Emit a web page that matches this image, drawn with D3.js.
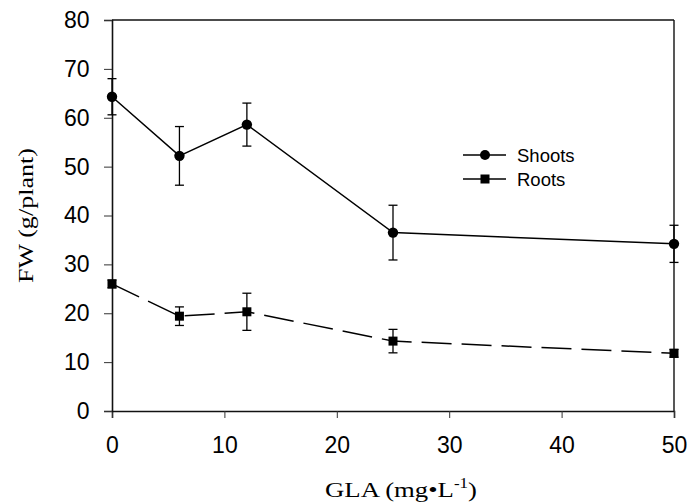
<!DOCTYPE html>
<html>
<head>
<meta charset="utf-8">
<script src="https://cdn.jsdelivr.net/npm/d3@7"></script>
<style>
  body { margin: 0; background: #fff; }
  svg { display: block; }
</style>
</head>
<body>
<div id="chart"></div>
<script>
const doses = [0, 6, 12, 25, 50];
const shoots = [64.3, 52.2, 58.6, 36.5, 34.2];
const shootsErr = [3.7, 6.0, 4.4, 5.6, 3.8];
const roots = [26.0, 19.4, 20.3, 14.3, 11.8];
const rootsErr = [0.8, 1.9, 3.8, 2.4, 0.8];
const xTicks = [0, 10, 20, 30, 40, 50];
const yTicks = [0, 10, 20, 30, 40, 50, 60, 70, 80];

var margin = { top: 20, right: 15, bottom: 93, left: 112 },
    width = 689 - margin.left - margin.right,
    height = 504 - margin.top - margin.bottom;

var svg = d3.select("#chart").append("svg")
    .attr("width", 689)
    .attr("height", 504)
  .append("g")
    .attr("transform", "translate(" + margin.left + "," + margin.top + ")");

var x = d3.scaleLinear().domain([0, 50]).range([0, width]);
var y = d3.scaleLinear().domain([0, 80]).range([height, 0]);

// axes
var xAxis = svg.append("g")
    .attr("transform", "translate(0," + height + ")")
    .call(d3.axisBottom(x).tickValues(xTicks).tickSize(7).tickPadding(19));
var yAxis = svg.append("g")
    .call(d3.axisLeft(y).tickValues(yTicks).tickSize(8).tickPadding(14.5));

[xAxis, yAxis].forEach(function (a) {
    a.select(".domain").attr("stroke", "#111").attr("stroke-width", 1.6);
    a.selectAll(".tick line").attr("stroke", "#333").attr("stroke-width", 1);
    a.selectAll(".tick text")
        .attr("fill", "#000")
        .style("font-family", "Liberation Sans, Arial, sans-serif")
        .style("font-size", "23px");
});

// top and right frame
svg.append("line").attr("x1", 0).attr("x2", width).attr("y1", 0).attr("y2", 0)
    .attr("stroke", "#111").attr("stroke-width", 1.4);
svg.append("line").attr("x1", width).attr("x2", width).attr("y1", 0).attr("y2", height)
    .attr("stroke", "#111").attr("stroke-width", 1.4);

var series = [
    { name: "Shoots", values: shoots, err: shootsErr, marker: "circle", dash: null },
    { name: "Roots", values: roots, err: rootsErr, marker: "square", dash: "30,10" }
];

var line = d3.line()
    .x(d => x(d[0]))
    .y(d => y(d[1]));

series.forEach(function (s) {
    var pts = doses.map((d, i) => [d, s.values[i], s.err[i]]);

    svg.append("path")
        .datum(pts)
        .attr("d", line)
        .attr("fill", "none")
        .attr("stroke", "#000")
        .attr("stroke-width", 1.5)
        .attr("stroke-dasharray", s.dash);

    // error bars
    var eb = svg.append("g").selectAll("g")
        .data(pts)
        .join("g")
        .attr("stroke", "#000")
        .attr("stroke-width", 1.3);
    eb.append("line")
        .attr("x1", d => x(d[0])).attr("x2", d => x(d[0]))
        .attr("y1", d => y(d[1] - d[2])).attr("y2", d => y(d[1] + d[2]));
    eb.append("line")
        .attr("x1", d => x(d[0]) - 4.5).attr("x2", d => x(d[0]) + 4.5)
        .attr("y1", d => y(d[1] + d[2])).attr("y2", d => y(d[1] + d[2]));
    eb.append("line")
        .attr("x1", d => x(d[0]) - 4.5).attr("x2", d => x(d[0]) + 4.5)
        .attr("y1", d => y(d[1] - d[2])).attr("y2", d => y(d[1] - d[2]));

    // markers
    if (s.marker === "circle") {
        svg.append("g").selectAll("circle")
            .data(pts)
            .join("circle")
            .attr("cx", d => x(d[0]))
            .attr("cy", d => y(d[1]))
            .attr("r", 5.2)
            .attr("fill", "#000");
    } else {
        svg.append("g").selectAll("rect")
            .data(pts)
            .join("rect")
            .attr("x", d => x(d[0]) - 4.5)
            .attr("y", d => y(d[1]) - 4.5)
            .attr("width", 9)
            .attr("height", 9)
            .attr("fill", "#000");
    }
});

// legend
var legend = svg.append("g")
    .attr("transform", "translate(" + (463 - margin.left) + "," + (155 - margin.top) + ")");
series.forEach(function (s, i) {
    var g = legend.append("g").attr("transform", "translate(0," + (i * 24) + ")");
    g.append("line").attr("x1", 0).attr("x2", 43).attr("y1", 0).attr("y2", 0)
        .attr("stroke", "#000").attr("stroke-width", 1.3);
    if (s.marker === "circle") {
        g.append("circle").attr("cx", 22).attr("cy", 0).attr("r", 5).attr("fill", "#000");
    } else {
        g.append("rect").attr("x", 17.5).attr("y", -4.5).attr("width", 9).attr("height", 9).attr("fill", "#000");
    }
    g.append("text")
        .attr("x", 54)
        .attr("y", 7)
        .style("font-family", "Liberation Sans, Arial, sans-serif")
        .style("font-size", "18.5px")
        .text(s.name);
});

// axis titles
var xt = svg.append("text")
    .attr("x", 325 - margin.left)
    .attr("y", 497 - margin.top)
    .attr("textLength", 152)
    .attr("lengthAdjust", "spacingAndGlyphs")
    .style("font-family", "Liberation Serif, Times New Roman, serif")
    .style("font-size", "22px");
xt.append("tspan").text("GLA (mg\u2022L");
xt.append("tspan").attr("dy", -9).style("font-size", "14px").text("-1");
xt.append("tspan").attr("dy", 9).text(")");

svg.append("text")
    .attr("transform", "translate(" + (33 - margin.left) + "," + (height / 2) + ") rotate(-90)")
    .attr("text-anchor", "middle")
    .attr("textLength", 135)
    .attr("lengthAdjust", "spacingAndGlyphs")
    .style("font-family", "Liberation Serif, Times New Roman, serif")
    .style("font-size", "22px")
    .text("FW (g/plant)");
</script>
</body>
</html>
